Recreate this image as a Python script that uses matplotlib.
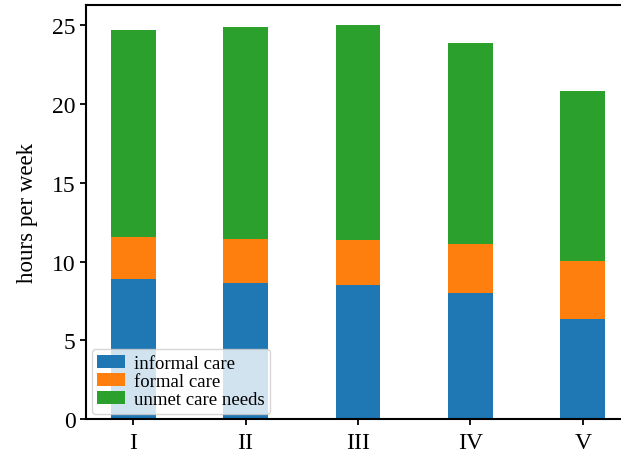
import matplotlib
matplotlib.use("Agg")
import matplotlib.pyplot as plt
import numpy as np

categories = ["I", "II", "III", "IV", "V"]
informal_care = [8.92, 8.67, 8.50, 7.99, 6.39]
formal_care = [2.62, 2.74, 2.85, 3.15, 3.67]
unmet_care_needs = [13.14, 13.46, 13.65, 12.72, 10.76]

plt.rcParams["font.family"] = ["Liberation Serif", "DejaVu Serif"]

fig = plt.figure(figsize=(6.21, 4.56), dpi=100)
ax = fig.add_axes([86 / 621, (456 - 420.3) / 456, (630 - 86) / 621, (420.3 - 5.7) / 456])

x = np.arange(len(categories))
width = 0.4
informal = np.array(informal_care)
formal = np.array(formal_care)
unmet = np.array(unmet_care_needs)

ax.bar(x, informal, width, color="#1f77b4", label="informal care")
ax.bar(x, formal, width, bottom=informal, color="#ff7f0e", label="formal care")
ax.bar(x, unmet, width, bottom=informal + formal, color="#2ca02c", label="unmet care needs")

ax.set_xticks(x)
ax.set_xticklabels(categories)
ax.set_yticks([0, 5, 10, 15, 20, 25])
ax.set_ylim(0, 26.3)
ax.set_ylabel("hours per week", fontsize=16.5, labelpad=10)
ax.tick_params(labelsize=17, width=1.3, length=4)
ax.tick_params(axis="x", pad=5.5)
for s in ax.spines.values():
    s.set_linewidth(1.5)

ax.legend(loc="lower left", fontsize=13.5, handlelength=1.5, labelspacing=0.05,
          borderpad=0.3, handletextpad=0.45, borderaxespad=0.3)

fig.savefig("out.png", dpi=100)
